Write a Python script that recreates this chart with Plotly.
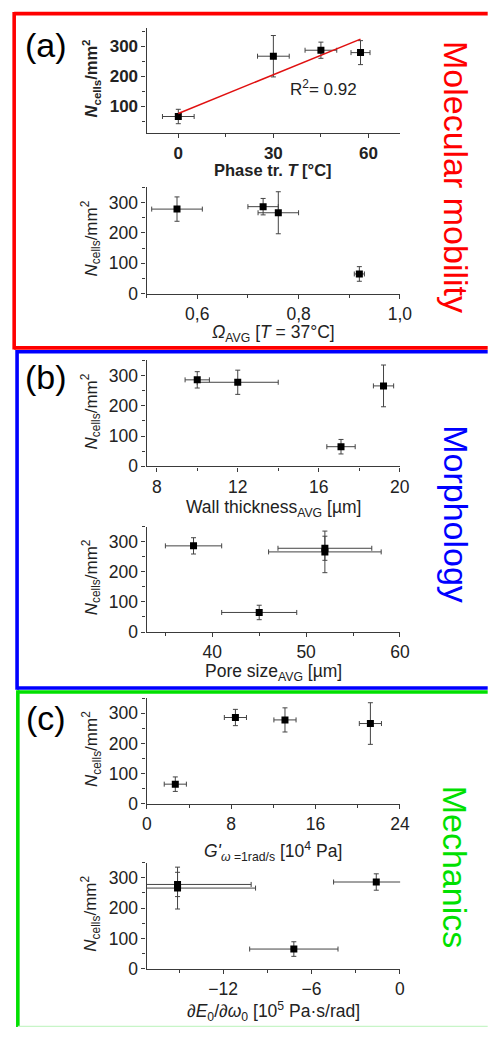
import plotly.graph_objects as go

# ---------------- data (4 scaffolds) ----------------
n_cells = [65, 266, 286, 278]
n_cells_err = [24, 69, 27, 40]

phase_T = [0, 30, 45, 57.5]
phase_T_err = [5, 5, 5, 3]
fit_T = [0, 57.5]
fit_N = [75, 323]

omega_avg = [0.92, 0.76, 0.73, 0.56]
omega_avg_err = [0.01, 0.04, 0.03, 0.05]

wall_thk = [17.1, 19.2, 10.0, 12.0]
wall_thk_err = [0.7, 0.5, 0.6, 2.0]

pore_size = [45, 52, 38, 52]
pore_size_err = [4, 6, 3, 5]

g_prime = [2.7, 21.2, 8.4, 13.1]
g_prime_err = [1.05, 1.05, 1.05, 1.05]

dE_dw = [-7.2, -15.1, -1.6, -15.1]
dE_dw_err = [3.0, 5.3, 2.9, 5.0]

# ---------------- layout helpers ----------------
W, H = 491, 1037
FONT = "Liberation Sans, Arial, sans-serif"
AX = "#3a3a3a"
TXT = "#222222"


def px(x):
    return x / W


def py(y):
    return 1 - y / H


panels = [  # (top, bottom) in pixels
    (28.3, 134.3),
    (189, 296.7),
    (364, 471),
    (531.7, 638.3),
    (705, 811.7),
    (871, 978.3),
]
xdom = [px(146.7), px(409.3)]

xs = [phase_T, omega_avg, wall_thk, pore_size, g_prime, dE_dw]
xerrs = [phase_T_err, omega_avg_err, wall_thk_err, pore_size_err, g_prime_err, dE_dw_err]

xranges = [[-10, 70], [0.5, 1.0005], [7.5, 20.02], [33, 60.02], [-0.02, 24.02], [-17.2, 0.02]]
xdticks = [30, 0.2, 4, 10, 8, 6]
xminor = [15, 0.1, 2, 5, 4, 3]
yranges = [[10, 360], [-0.3, 350], [-0.3, 350], [-0.3, 350], [-0.3, 350], [-0.3, 350]]

fig = go.Figure()

for i in range(6):
    k = "" if i == 0 else str(i + 1)
    fig.add_trace(go.Scatter(
        x=xs[i], y=n_cells, mode="markers",
        marker=dict(symbol="square", size=7, color="black"),
        error_x=dict(type="data", array=xerrs[i], color="#444", thickness=1, width=2.5),
        error_y=dict(type="data", array=n_cells_err, color="#444", thickness=1, width=2.5),
        xaxis="x" + k, yaxis="y" + k, showlegend=False,
    ))
    if i == 0:
        tf = dict(family=FONT, size=17, color=TXT, weight="bold")
    else:
        tf = dict(family=FONT, size=17.5, color=TXT)
    common = dict(showline=True, linecolor=AX, linewidth=1.3, ticks="outside", ticklen=4,
                  tickwidth=1, tickcolor=AX, showgrid=False, zeroline=False, mirror=False,
                  tickfont=tf)
    fig.layout["xaxis" + k] = dict(
        domain=xdom, anchor="y" + k, range=xranges[i], dtick=xdticks[i], tick0=0,
        minor=dict(ticks="outside", ticklen=3, tickcolor=AX, dtick=xminor[i], tick0=0),
        tickformat=".1f" if i == 1 else None, **common)
    t, b = panels[i]
    fig.layout["yaxis" + k] = dict(
        domain=[py(b), py(t)], anchor="x" + k, range=yranges[i], dtick=100, tick0=0,
        minor=dict(ticks="outside", ticklen=3, tickcolor=AX, dtick=50, tick0=0), **common)

# linear fit in panel (a) top
fig.add_trace(go.Scatter(x=fit_T, y=fit_N, mode="lines",
                         line=dict(color="#e01010", width=1.5),
                         xaxis="x", yaxis="y", showlegend=False))

ann = []


def add_text(x, y, text, size, color=TXT, angle=0, weight=None):
    f = dict(family=FONT, size=size, color=color)
    if weight:
        f["weight"] = weight
    ann.append(dict(x=px(x), y=py(y), xref="paper", yref="paper", text=text,
                    textangle=angle, showarrow=False, xanchor="center",
                    yanchor="middle", font=f))


# y titles
for i, (t, b) in enumerate(panels):
    txt = "<i>N</i><sub>cells</sub>/mm<sup>2</sup>"
    if i == 0:
        add_text(89, (t + b) / 2 - 2, txt, 16.5, angle=-90, weight="bold")
    else:
        add_text(89, (t + b) / 2 - 2, txt, 17, angle=-90)

xtitles = [
    ("Phase tr. <i>T</i> [°C]", 172, True),
    ("<i>Ω</i><sub>AVG</sub> [<i>T</i> = 37°C]", 337, False),
    ("Wall thickness<sub>AVG</sub> [µm]", 513, False),
    ("Pore size<sub>AVG</sub> [µm]", 679, False),
    ("<i>G'</i><sub><i>ω</i> =1rad/s</sub> [10<sup>4</sup> Pa]", 860, False),
    ("∂<i>E</i><sub>0</sub>/∂<i>ω</i><sub>0</sub> [10<sup>5</sup> Pa·s/rad]", 1021, False),
]
for txt, yc, b in xtitles:
    if b:
        add_text(278, yc, txt, 16.5, weight="bold")
    else:
        add_text(278, yc, txt, 17.5)

# R^2
add_text(330, 89, "R<sup>2</sup>= 0.92", 17)

# panel letters
for lab, yc in [("(a)", 45.5), ("(b)", 381), ("(c)", 725)]:
    add_text(42.5, yc, lab, 34, color="black")

# side labels
for lab, yc, col in [("Molecular mobility", 178.5, "#ff0000"),
                     ("Morphology", 519, "#0000ff"),
                     ("Mechanics", 876, "#00e000")]:
    add_text(467, yc, lab, 34, color=col, angle=90)


def seg(x0, y0, x1, y1, col, w=3.6):
    return dict(type="line", xref="paper", yref="paper", x0=px(x0), y0=py(y0),
                x1=px(x1), y1=py(y1), line=dict(color=col, width=w))


RED, BLUE, GREEN = "#ff0000", "#0000ff", "#00e000"
XR = 500
shapes = [
    seg(9.5, 13.8, XR, 13.8, RED), seg(9.5, 12, 9.5, 353, RED),
    seg(9.5, 351.3, XR, 351.3, RED),
    seg(12.5, 355.2, XR, 355.2, BLUE), seg(12.5, 353.4, 12.5, 696.5, BLUE),
    seg(12.5, 694.7, XR, 694.7, BLUE),
    seg(13.3, 698.8, XR, 698.8, GREEN), seg(13.3, 697, 13.3, 1037, GREEN),
    seg(13.3, 1036.3, XR, 1036.3, "#c8f5c8", 1.2),
]

fig.update_layout(
    width=W, height=H, margin=dict(l=0, r=0, t=0, b=0),
    paper_bgcolor="white", plot_bgcolor="white",
    separators=",.", annotations=ann, shapes=shapes,
    font=dict(family=FONT, color=TXT),
)

fig.write_html("out.html")
